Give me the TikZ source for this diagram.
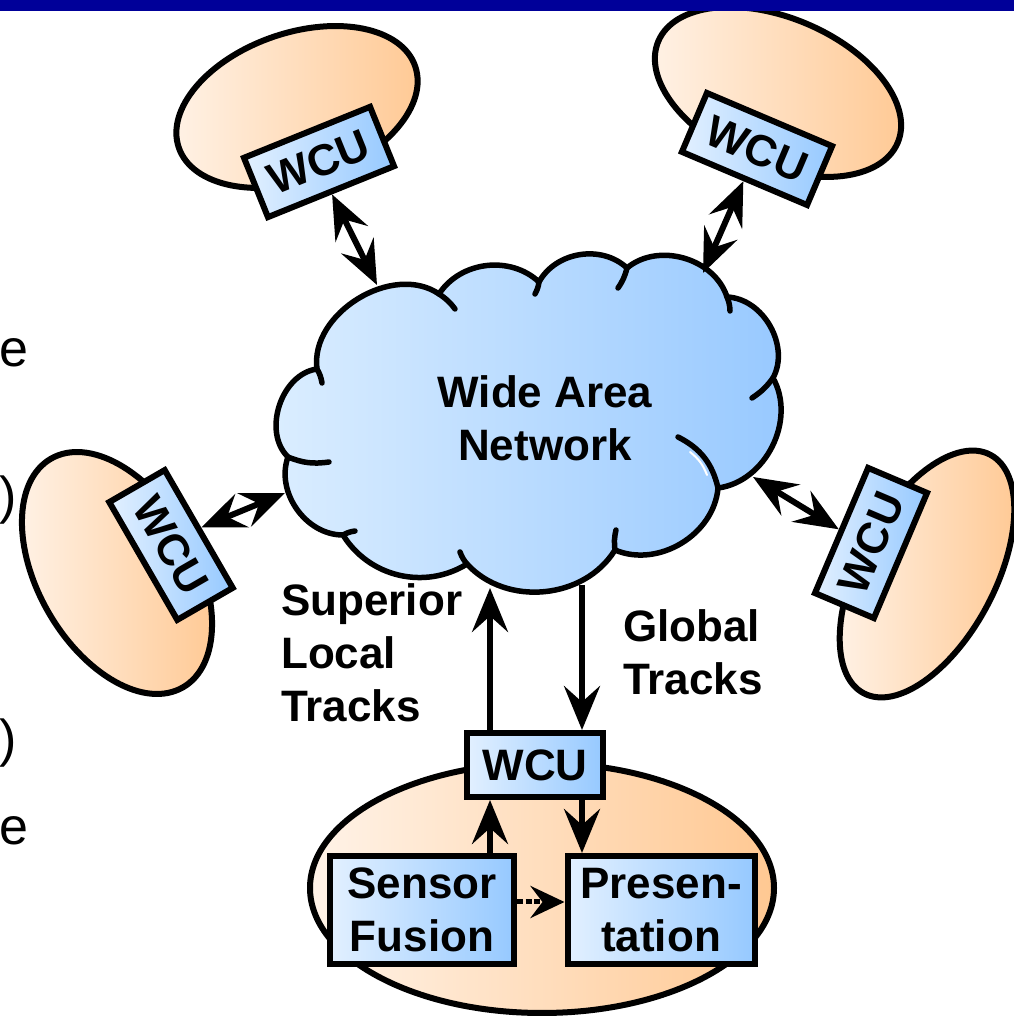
\documentclass[tikz,border=0pt]{standalone}
\usepackage{fontspec}
\setmainfont{Liberation Sans}
\usetikzlibrary{arrows.meta,calc}
\definecolor{orL}{HTML}{FFF3E8}
\definecolor{orR}{HTML}{FFC892}
\definecolor{blL}{HTML}{E2F0FF}
\definecolor{blR}{HTML}{96C9FF}
\definecolor{clL}{HTML}{DCEEFF}
\definecolor{clR}{HTML}{96C8FF}
\definecolor{navybar}{HTML}{000099}
\begin{document}
\begin{tikzpicture}[x=1pt,y=1pt,
  lbl/.style={font=\bfseries\fontsize{44}{53}\selectfont, inner sep=0pt},
  side/.style={font=\fontsize{52}{62}\selectfont, inner sep=0pt, anchor=base east},
  ell/.style={draw=black, line width=6pt, left color=orL, right color=orR},
  bluebox/.style={draw=black, line width=6pt, left color=blL, right color=blR, inner sep=0pt,
    font=\bfseries\fontsize{44}{53}\selectfont, align=center},
  wcu/.style={bluebox, minimum width=136pt, minimum height=64pt},
  cloudsty/.style={draw=black, line width=5.5pt, line join=round, left color=clL, right color=clR},
  tick/.style={line width=5.5pt, line cap=round},
  bigtip/.tip={Stealth[length=44pt,width=36pt,inset=16pt]},
  smalltip/.tip={Stealth[length=34pt,width=32pt,inset=12pt]},
  arr/.style={line width=6pt, -bigtip},
  darr/.style={line width=6pt, bigtip-bigtip},
  dasharr/.style={line width=5pt, dash pattern=on 6pt off 2.5pt, -smalltip}
]
\useasboundingbox (0,0) rectangle (1014,1020);

% ellipses
\shadedraw[ell, rotate around={19:(297,913)}] (297,913) ellipse [x radius=125pt, y radius=74pt];
\shadedraw[ell, rotate around={-23:(778,928)}] (778,928) ellipse [x radius=130pt, y radius=74pt];
\shadedraw[ell, rotate around={-60:(117,447)}] (117,447) ellipse [x radius=132pt, y radius=79pt];
\shadedraw[ell, rotate around={62:(927,446)}] (927,446) ellipse [x radius=135pt, y radius=68pt];
\shadedraw[ell] (542,132) ellipse [x radius=232pt, y radius=125pt];

% WCU boxes on ellipses
\node[wcu, rotate=22] (wTL) at (319,858) {WCU};
\node[wcu, rotate=-23] (wTR) at (757,871) {WCU};
\node[wcu, rotate=-60] (wL) at (171,475) {WCU};
\node[wcu, rotate=67] (wR) at (871,477) {WCU};

% cloud
\shadedraw[cloudsty] (317,651) to[bend left=66] (439,726) to[bend left=50] (539,738)
  to[bend left=52] (627,752) to[bend left=56] (727,723) to[bend left=58] (773,642)
  to[bend left=56] (718,532) to[bend left=54] (615,470) to[bend left=53] (467,456)
  to[bend left=45] (343,485) to[bend left=55] (288,563) to[bend left=64] (317,651) -- cycle;
\draw[tick] (317,651) to[bend left=10] (322,637);
\draw[tick] (439,726) to[bend left=10] (455,711);
\draw[tick] (539,738) to[bend left=10] (535,726);
\draw[tick] (627,752) to[bend left=10] (618,732);
\draw[tick] (727,723) to[bend left=10] (730,709);
\draw[tick] (773,642) to[bend left=10] (752,622);
\draw[tick] (718,532) to[bend right=25] (678,583);
\draw[white, line width=2pt, line cap=round] (707,545) to[bend right=15] (690,568);
\draw[tick] (615,470) to[bend left=10] (616,490);
\draw[tick] (467,456) to[bend left=10] (460,468);
\draw[tick] (343,485) to[bend left=10] (355,489);
\draw[tick] (288,563) to[bend right=15] (329,558);
\node[lbl, align=center] (wan) at (545,602) {Wide Area\\Network};

% cloud attachment points
\coordinate (cTL) at (377,735);
\coordinate (cTR) at (703,747);
\coordinate (cL) at (285,527);
\coordinate (cR) at (753,543);
\coordinate (cS) at (490,432);
\coordinate (cG) at (582,435);
\coordinate (xL) at (490,0);
\coordinate (xR) at (582,0);

% bottom site
\node[wcu] (wB) at (535,255) {WCU};
\node[bluebox, minimum width=184pt, minimum height=108pt] (sf) at (422,110) {Sensor\\Fusion};
\node[bluebox, minimum width=187pt, minimum height=108pt] (pr) at (661,110) {Presen-\\tation};

% connectors
\draw[darr] (wTL.south) -- (cTL);
\draw[darr] (wTR.south) -- (cTR);
\draw[darr] (wL.north) -- (cL);
\draw[darr] (wR.north) -- (cR);
\draw[arr] (wB.north -| xL) -- (cS);
\draw[arr] (cG) -- (wB.north -| xR);
\draw[arr] (sf.north -| xL) -- (wB.south -| xL);
\draw[arr] (wB.south -| xR) -- (pr.north -| xR);
\draw[dasharr] ([yshift=8pt]sf.east) -- ([yshift=8pt]pr.west);

% labels
\node[lbl, align=left, anchor=north west] (sup) at (281,437) {Superior\\Local\\Tracks};
\node[lbl, align=left, anchor=north west] (glo) at (623,411) {Global\\Tracks};

% cut-off slide text at the left margin
\node[side] (t1) at (29,653) {e};
\node[side] (t2) at (17,506) {)};
\node[side] (t3) at (17,263) {)};
\node[side] (t4) at (29,175) {e};

% top bar
\fill[navybar] (0,1009) rectangle (1014,1020);
\end{tikzpicture}
\end{document}
